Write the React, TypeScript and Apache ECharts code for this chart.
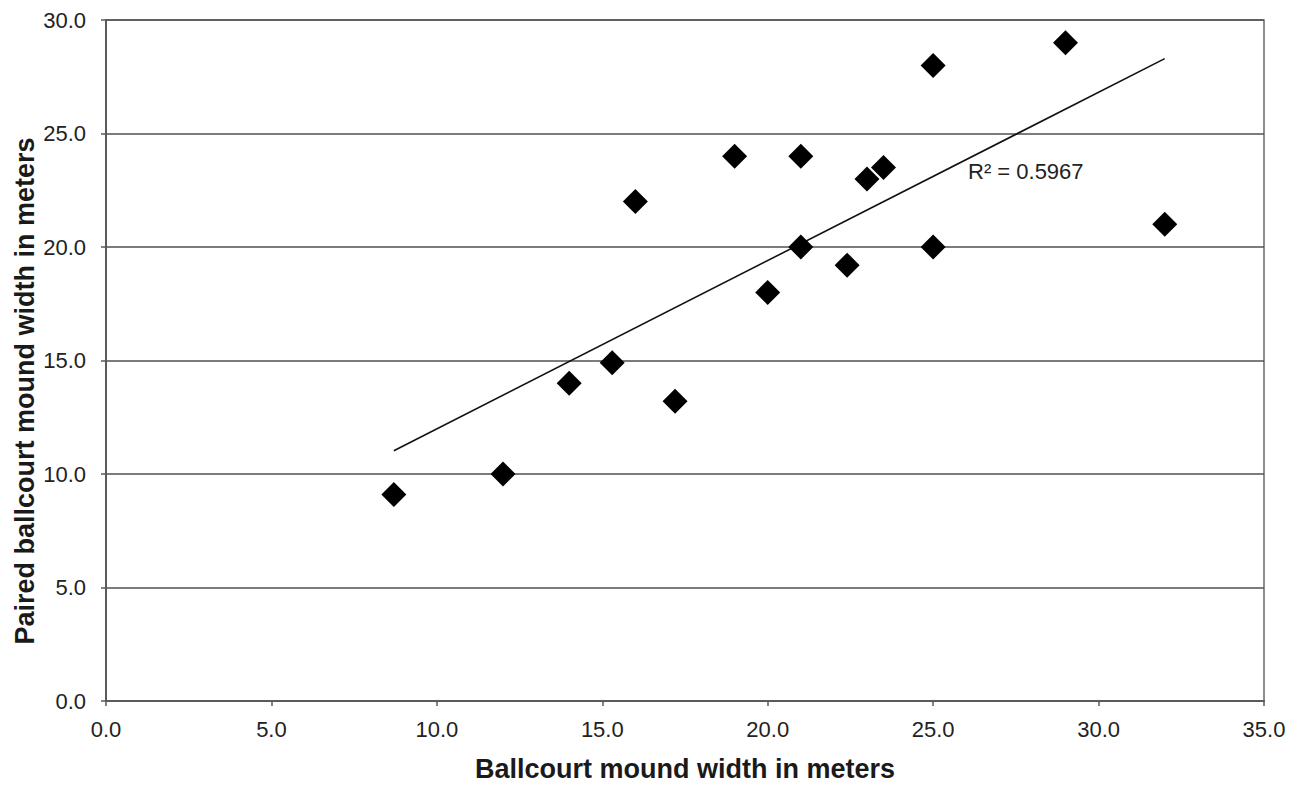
import React, { useEffect, useRef } from "react";
import * as echarts from "echarts";

const xValues = [8.7, 12, 14, 15.3, 17.2, 16, 19, 21, 21, 20, 22.4, 23, 23.5, 25, 25, 29, 32];
const yValues = [9.1, 10, 14, 14.9, 13.2, 22, 24, 24, 20, 18, 19.2, 23, 23.5, 20, 28, 29, 21];
const xTitle = "Ballcourt mound width in meters";
const yTitle = "Paired ballcourt mound width in meters";
const r2Label = "R\u00b2 = 0.5967";

const FONT = "'Liberation Sans', Arial, Helvetica, sans-serif";

function regression(xs: number[], ys: number[]) {
  const n = xs.length;
  const mx = xs.reduce((a, b) => a + b, 0) / n;
  const my = ys.reduce((a, b) => a + b, 0) / n;
  let sxy = 0;
  let sxx = 0;
  for (let i = 0; i < n; i++) {
    sxy += (xs[i] - mx) * (ys[i] - my);
    sxx += (xs[i] - mx) * (xs[i] - mx);
  }
  const slope = sxy / sxx;
  return { slope, intercept: my - slope * mx };
}

export default function App() {
  const ref = useRef<HTMLDivElement>(null);
  useEffect(() => {
    if (!ref.current) return;
    const chart = echarts.init(ref.current, null, { renderer: "svg" });
    const pts = xValues.map((x, i) => [x, yValues[i]]);
    const { slope, intercept } = regression(xValues, yValues);
    const x0 = Math.min(...xValues);
    const x1 = Math.max(...xValues);
    const trend = [
      [x0, intercept + slope * x0],
      [x1, intercept + slope * x1],
    ];
    const fmt = (v: number) => v.toFixed(1);
    chart.setOption({
      animation: false,
      backgroundColor: "#ffffff",
      grid: {
        left: 106,
        top: 20,
        right: 34,
        bottom: 86,
        show: true,
        borderColor: "#6a6a6a",
        borderWidth: 1.5,
      },
      xAxis: {
        type: "value",
        min: 0,
        max: 35,
        interval: 5,
        name: xTitle,
        nameLocation: "middle",
        nameGap: 54,
        nameTextStyle: { fontFamily: FONT, fontSize: 27, fontWeight: "bold", color: "#1a1a1a" },
        axisLine: { show: true, lineStyle: { color: "#5a5a5a", width: 2 } },
        axisTick: { show: true, inside: false, length: 5, lineStyle: { color: "#5a5a5a", width: 1.5 } },
        axisLabel: { formatter: fmt, fontFamily: FONT, fontSize: 22, color: "#222", margin: 17 },
        splitLine: { show: false },
      },
      yAxis: {
        type: "value",
        min: 0,
        max: 30,
        interval: 5,
        axisLine: { show: true, lineStyle: { color: "#5a5a5a", width: 2 } },
        axisTick: { show: true, inside: false, length: 5, lineStyle: { color: "#5a5a5a", width: 1.5 } },
        axisLabel: { formatter: fmt, fontFamily: FONT, fontSize: 22, color: "#222", margin: 20 },
        splitLine: { show: true, lineStyle: { color: "#505050", width: 1.7 } },
      },
      graphic: [
        {
          type: "text",
          x: 25,
          y: 391,
          rotation: Math.PI / 2,
          style: {
            text: yTitle,
            font: `bold 27px ${FONT}`,
            fill: "#1a1a1a",
            textAlign: "center",
            textVerticalAlign: "middle",
          },
        },
        {
          type: "text",
          x: 968,
          y: 171,
          style: {
            text: r2Label,
            font: `22px ${FONT}`,
            fill: "#222",
            textAlign: "left",
            textVerticalAlign: "middle",
          },
        },
      ],
      series: [
        {
          type: "line",
          data: trend,
          showSymbol: false,
          symbol: "none",
          lineStyle: { color: "#111", width: 1.6 },
          z: 2,
        },
        {
          type: "scatter",
          data: pts,
          symbol: "diamond",
          symbolSize: 25,
          itemStyle: { color: "#000", opacity: 1 },
          z: 3,
        },
      ],
    });
    return () => chart.dispose();
  }, []);
  return (
    <div
      ref={ref}
      style={{ position: "fixed", left: 0, top: 0, width: 1298, height: 787, background: "#fff" }}
    />
  );
}
